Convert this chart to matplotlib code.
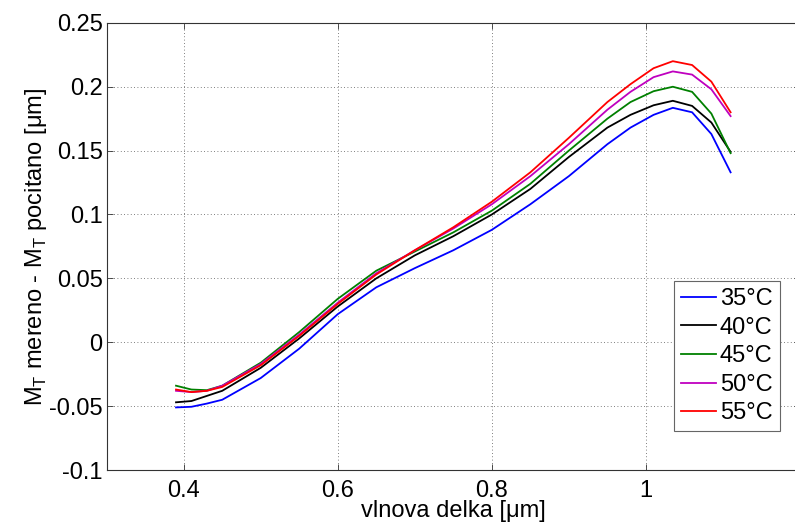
import matplotlib
matplotlib.use("Agg")
import matplotlib.pyplot as plt

plt.rcParams["font.family"] = ["Liberation Sans", "DejaVu Sans"]
plt.rcParams["mathtext.fontset"] = "custom"
plt.rcParams["mathtext.rm"] = "Liberation Sans"

# wavelength [um]
wl = [0.39, 0.41, 0.43, 0.45, 0.50, 0.55, 0.60, 0.65, 0.70, 0.75, 0.80,
      0.85, 0.90, 0.95, 0.98, 1.01, 1.035, 1.06, 1.085, 1.11]

t35 = [-0.051, -0.0505, -0.048, -0.045, -0.028, -0.005, 0.022, 0.043, 0.058,
       0.072, 0.088, 0.108, 0.130, 0.155, 0.168, 0.178, 0.1835, 0.180, 0.163,
       0.133]
t40 = [-0.047, -0.046, -0.042, -0.038, -0.020, 0.003, 0.028, 0.050, 0.068,
       0.083, 0.100, 0.120, 0.145, 0.168, 0.178, 0.1855, 0.189, 0.185, 0.172,
       0.149]
t45 = [-0.034, -0.037, -0.0375, -0.034, -0.016, 0.008, 0.034, 0.056, 0.071,
       0.086, 0.103, 0.124, 0.150, 0.175, 0.188, 0.1965, 0.200, 0.196, 0.179,
       0.148]
t50 = [-0.038, -0.039, -0.038, -0.034, -0.017, 0.006, 0.031, 0.054, 0.072,
       0.089, 0.108, 0.130, 0.155, 0.182, 0.196, 0.2075, 0.212, 0.2095, 0.198,
       0.177]
t55 = [-0.037, -0.039, -0.038, -0.035, -0.018, 0.005, 0.030, 0.053, 0.072,
       0.090, 0.110, 0.133, 0.160, 0.188, 0.202, 0.2145, 0.220, 0.217, 0.204,
       0.180]

series = [t35, t40, t45, t50, t55]
labels = ["35°C", "40°C", "45°C", "50°C", "55°C"]
colors = ["#0000ff", "#000000", "#008000", "#bf00bf", "#ff0000"]

fig = plt.figure(figsize=(7.95, 5.23), dpi=100)
ax = fig.add_axes([0.1342, 0.1013, 0.872, 0.855])

for y, lab, c in zip(series, labels, colors):
    ax.plot(wl, y, color=c, linewidth=1.3, label=lab)

ax.set_xlim(0.3, 1.2)
ax.set_ylim(-0.1, 0.25)
ax.set_xticks([0.4, 0.6, 0.8, 1.0])
ax.set_xticklabels(["0.4", "0.6", "0.8", "1"])
ax.set_yticks([-0.1, -0.05, 0, 0.05, 0.1, 0.15, 0.2, 0.25])
ax.set_yticklabels(["-0.1", "-0.05", "0", "0.05", "0.1", "0.15", "0.2", "0.25"])

ax.tick_params(direction="in", length=4, width=0.6, labelsize=17, pad=3,
               top=True, right=True, colors="#333333", labelcolor="black")
ax.tick_params(axis="x", pad=7)
ax.grid(True, linestyle=(0, (1, 3)), color="#555555", linewidth=0.6)
for s in ax.spines.values():
    s.set_linewidth(0.8)
    s.set_color("#333333")

ax.set_xlabel("vlnova delka [μm]", fontsize=17, labelpad=-1)
ax.set_ylabel(r"M$_\mathregular{T}$ mereno - M$_\mathregular{T}$ pocitano [μm]",
              fontsize=17, labelpad=0)

leg = ax.legend(loc="upper left", bbox_to_anchor=(0.818, 0.423),
                borderaxespad=0, fancybox=False, framealpha=1,
                edgecolor="#666666", fontsize=17, handlelength=1.5,
                handletextpad=0.15, labelspacing=0.28, borderpad=0.3)
leg.get_frame().set_linewidth(0.8)

fig.savefig("out.png", dpi=100)
